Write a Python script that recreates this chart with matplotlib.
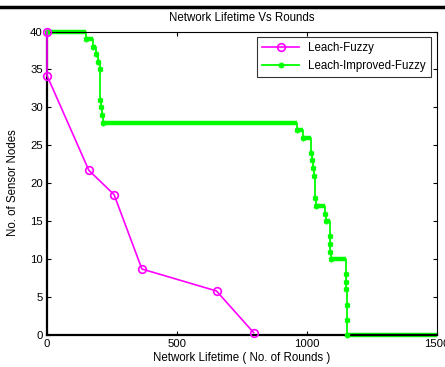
import numpy as np
import matplotlib
matplotlib.use('Agg')
import matplotlib.pyplot as plt
from matplotlib.lines import Line2D

plt.rcParams['font.family'] = ['Liberation Sans', 'DejaVu Sans']

# Leach-Fuzzy: rounds vs alive nodes
fuzzy_rounds = [0, 0, 161, 258, 365, 652, 795]
fuzzy_alive = [40, 34.2, 21.7, 18.5, 8.7, 5.8, 0.3]

# Leach-Improved-Fuzzy: step points (round at which count changes)
imp_rounds = [0, 150, 178, 190, 198, 203, 205, 207, 210, 215, 963, 985, 1017,
              1020, 1024, 1028, 1032, 1036, 1069, 1072, 1088, 1089, 1090, 1091,
              1150, 1151, 1151.5, 1152, 1152.5, 1153, 1500]
imp_alive = [40, 39, 38, 37, 36, 35, 31, 30, 29, 28, 27, 26, 24,
             23, 22, 21, 18, 17, 16, 15, 13, 12, 11, 10,
             8, 7, 6, 4, 2, 0, 0]

xticks = [0, 500, 1000, 1500]
yticks = list(range(0, 41, 5))

W, H = 445, 367
fig = plt.figure(figsize=(W / 100, H / 100), dpi=100)
ax = fig.add_axes([47 / W, (H - 335) / H, 390 / W, (335 - 31.5) / H])

green = '#00FF00'
magenta = '#FF00FF'

# thick horizontal plateaus of the step curve
for i in range(len(imp_rounds) - 1):
    ax.hlines(imp_alive[i], imp_rounds[i], imp_rounds[i + 1], color=green,
              lw=3.2, zorder=2, clip_on=False)
ax.plot(imp_rounds, imp_alive, drawstyle='steps-post', color=green, lw=1.3,
        zorder=2, clip_on=False)
ax.plot(imp_rounds[:-1], imp_alive[:-1], ls='none', marker=(6, 2, 0), ms=4,
        mew=1.2, color=green, zorder=3, clip_on=False)

ax.plot(fuzzy_rounds, fuzzy_alive, color=magenta, lw=1.2, marker='o', ms=5.5,
        mfc='none', mew=1.2, zorder=4, clip_on=False)

ax.set_xlim(0, 1500)
ax.set_ylim(0, 40)
ax.set_xticks(xticks)
ax.set_yticks(yticks)
ax.tick_params(direction='in', length=3, width=0.8, labelsize=8.2, top=True,
               right=True, pad=3)
for s in ['top', 'right']:
    ax.spines[s].set_linewidth(0.8)
for s in ['left', 'bottom']:
    ax.spines[s].set_linewidth(1.6)

fig.text(242 / W, 1 - 18 / H, 'Network Lifetime Vs Rounds', ha='center',
         va='center', fontsize=8.3)
fig.text(242 / W, 1 - 358 / H, 'Network Lifetime ( No. of Rounds )',
         ha='center', va='center', fontsize=8.3)
fig.text(13 / W, 1 - 183 / H, 'No. of Sensor Nodes', ha='center',
         va='center', rotation=90, fontsize=8.3)

handles = [
    Line2D([], [], color=magenta, lw=1.2, marker='o', ms=5.5, mfc='none', mew=1.2),
    Line2D([], [], color=green, lw=1.3, marker=(6, 2, 0), ms=4, mew=1.2),
]
leg = ax.legend(handles, ['Leach-Fuzzy', 'Leach-Improved-Fuzzy'],
                loc='upper right', fontsize=8.3, frameon=True, fancybox=False,
                edgecolor='black', borderaxespad=0.5, handlelength=3.2,
                borderpad=0.45, labelspacing=0.5)
leg.get_frame().set_linewidth(0.8)

# document border line at the top of the scan
fig.add_artist(Line2D([0, 1], [1 - 7 / H, 1 - 7 / H], color='black', lw=2.5,
                      transform=fig.transFigure))

fig.savefig('out.png', dpi=100)
